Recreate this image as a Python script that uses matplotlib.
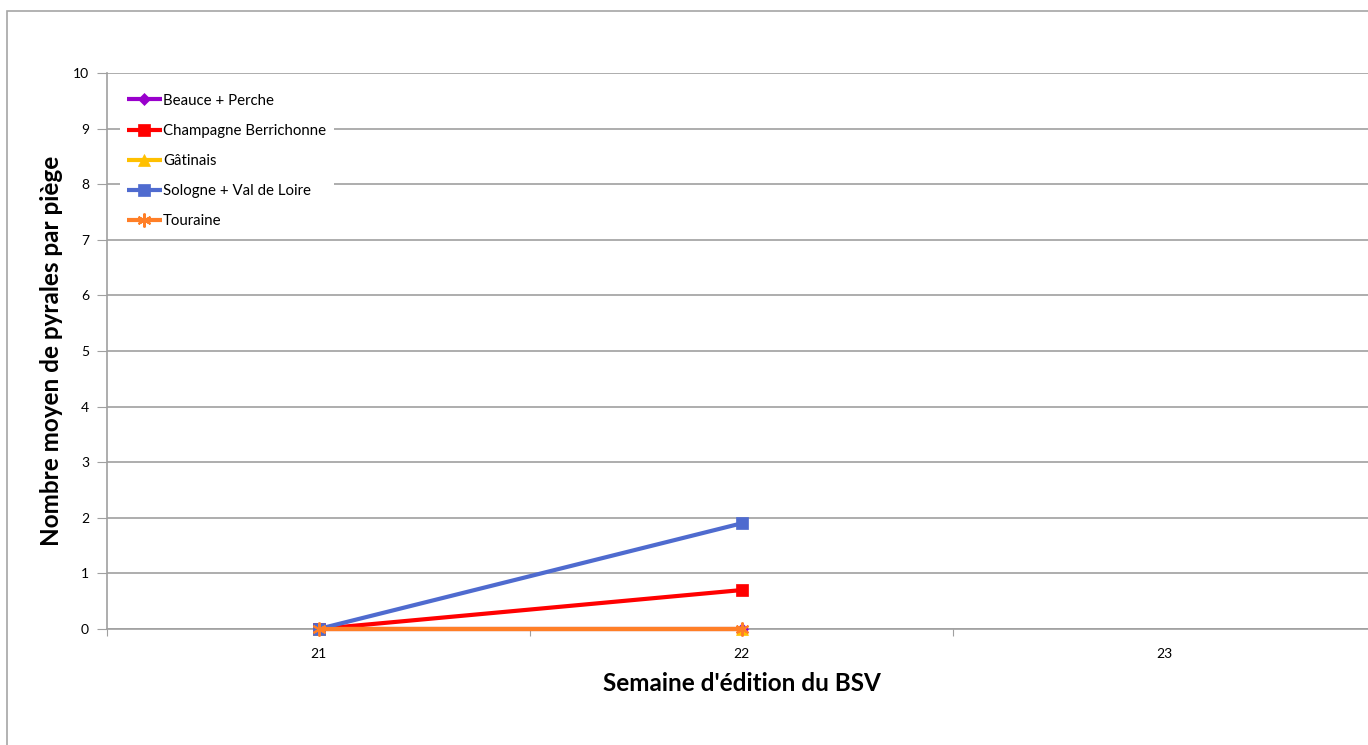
import numpy as np
import matplotlib.pyplot as plt
from matplotlib.patches import Rectangle

plt.rcParams['font.family'] = ['Lato', 'DejaVu Sans']

weeks = ['21', '22', '23']
series_names = ['Beauce + Perche', 'Champagne Berrichonne', 'Gâtinais',
                'Sologne + Val de Loire', 'Touraine']
beauce = [0, 0]
champagne = [0, 0.7]
gatinais = [0, 0]
sologne = [0, 1.9]
touraine = [0, 0]

colors = ['#9900CC', '#FF0000', '#FFC000', '#4F6BCF', '#FF7F27']
markers = ['D', 's', '^', 's', (6, 2, 0)]
msizes = [6, 9, 8, 9, 10]

W, H = 1368, 745
fig = plt.figure(figsize=(W / 100, H / 100), dpi=100)

# outer chart frame (cut off on right and bottom)
fig.patches.append(Rectangle((7 / W, -0.05), 1.2, 1 - 11 / H + 0.05,
                             transform=fig.transFigure, fill=False,
                             edgecolor='#A6A6A6', linewidth=1.2))

ax = fig.add_axes([107 / W, 1 - 629 / H, (1376 - 107) / W, (629 - 73) / H])

all_series = [beauce, champagne, gatinais, sologne, touraine]
x = np.arange(len(beauce))
for i, (name, vals, c, m, ms) in enumerate(zip(series_names, all_series, colors, markers, msizes)):
    ax.plot(x, vals, color=c, marker=m, markersize=ms, linewidth=3,
            markeredgewidth=1.5 if i == 4 else 0.5, label=name,
            solid_capstyle='butt', clip_on=False, zorder=3 + i)

ax.set_xlim(-0.5, len(weeks) - 0.5)
ax.set_ylim(0, 10)
ax.set_yticks(np.arange(0, 11, 1))
ax.yaxis.grid(True, color='#A0A0A0', linewidth=1.2)
ax.set_axisbelow(True)

# category labels centred, tick marks on boundaries
ax.set_xticks(np.arange(-0.5, len(weeks), 1.0))
ax.set_xticklabels([])
ax.set_xticks(np.arange(len(weeks)), minor=True)
ax.set_xticklabels(weeks, minor=True)
ax.tick_params(axis='x', which='minor', length=0, pad=14, labelsize=10)
ax.tick_params(axis='x', which='major', length=5, color='#A0A0A0', direction='out')
ax.tick_params(axis='y', length=7, color='#A0A0A0', labelsize=10, pad=6)

for side in ['top', 'right']:
    ax.spines[side].set_visible(False)
for side in ['left', 'bottom']:
    ax.spines[side].set_color('#A0A0A0')
    ax.spines[side].set_linewidth(1.2)

ax.set_xlabel("Semaine d'édition du BSV", fontsize=17.5, fontweight='bold', labelpad=8)
ax.set_ylabel('Nombre moyen de pyrales par piège', fontsize=17.5, fontweight='bold', labelpad=7)

leg = ax.legend(loc='upper left', bbox_to_anchor=(0.004, 0.99), frameon=True,
                fancybox=False, edgecolor='none', facecolor='white', framealpha=1,
                fontsize=10.8, handlelength=2.3, handletextpad=0.1,
                labelspacing=1.08, borderpad=0.5)
leg.set_zorder(20)

fig.savefig('out.png', dpi=100)
